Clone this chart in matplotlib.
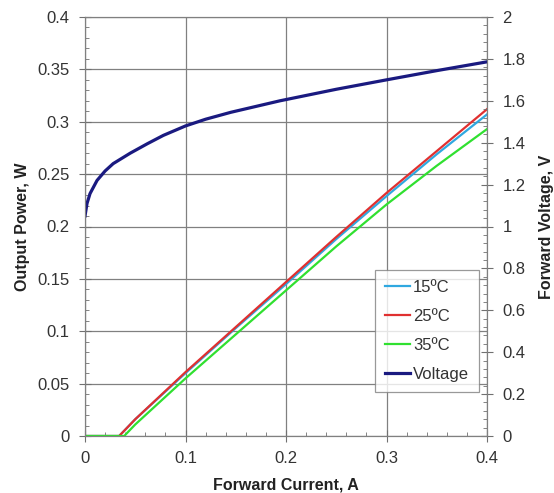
import matplotlib
matplotlib.use("Agg")
import matplotlib.pyplot as plt
from matplotlib.ticker import MultipleLocator

plt.rcParams['font.family'] = ['Liberation Sans', 'DejaVu Sans']

current_pw = [0.0, 0.02, 0.034, 0.05, 0.1, 0.15, 0.2, 0.25, 0.3, 0.35, 0.4]
p15 = [0.0, 0.0, 0.0, 0.016, 0.060, 0.103, 0.145, 0.188, 0.229, 0.269, 0.307]
p25 = [0.0, 0.0, 0.0, 0.016, 0.061, 0.104, 0.147, 0.190, 0.232, 0.272, 0.312]
current_35 = [0.0, 0.02, 0.039, 0.05, 0.1, 0.15, 0.2, 0.25, 0.3, 0.35, 0.4]
p35 = [0.0, 0.0, 0.0, 0.011, 0.055, 0.097, 0.139, 0.181, 0.221, 0.258, 0.293]

current_v = [0.0, 0.002, 0.005, 0.012, 0.02, 0.028, 0.045, 0.062, 0.078, 0.1,
             0.12, 0.145, 0.194, 0.25, 0.3, 0.35, 0.4]
voltage = [1.05, 1.11, 1.157, 1.22, 1.265, 1.30, 1.35, 1.395, 1.435, 1.48,
           1.512, 1.545, 1.60, 1.655, 1.70, 1.744, 1.786]

fig = plt.figure(figsize=(5.54, 4.93), dpi=100)
ax = fig.add_axes([85 / 554, (493 - 436) / 493, 402 / 554, 419 / 493])
ax2 = ax.twinx()

l15, = ax.plot(current_pw, p15, color='#2FA8E0', lw=1.6, label='15ºC')
l25, = ax.plot(current_pw, p25, color='#E03030', lw=1.6, label='25ºC')
l35, = ax.plot(current_35, p35, color='#30E030', lw=1.6, label='35ºC')
lv, = ax2.plot(current_v, voltage, color='#1A1A80', lw=2.3, label='Voltage')

ax.set_xlim(0, 0.4)
ax.set_ylim(0, 0.4)
ax2.set_ylim(0, 2)
ax.xaxis.set_major_locator(MultipleLocator(0.1))
ax.xaxis.set_minor_locator(MultipleLocator(0.02))
ax.yaxis.set_major_locator(MultipleLocator(0.05))
ax.yaxis.set_minor_locator(MultipleLocator(0.01))
ax2.yaxis.set_major_locator(MultipleLocator(0.2))
ax2.yaxis.set_minor_locator(MultipleLocator(0.04))

fmt = plt.FuncFormatter(lambda v, p: '0' if abs(v) < 1e-9 else f'{v:g}')
ax.xaxis.set_major_formatter(fmt)
ax.yaxis.set_major_formatter(fmt)
ax2.yaxis.set_major_formatter(fmt)

ax.grid(True, which='major', color='#808080', lw=0.9)
for a in (ax, ax2):
    for s in a.spines.values():
        s.set_color('#808080')
    a.tick_params(which='major', direction='inout', length=8, colors='#707070',
                  labelcolor='#333333', labelsize=12, pad=7)
    a.tick_params(which='minor', direction='in', length=3, colors='#707070')

ax.set_xlabel('Forward Current, A', fontsize=11.5, fontweight='bold', color='#222222', labelpad=8)
ax.set_ylabel('Output Power, W', fontsize=11.5, fontweight='bold', color='#222222', labelpad=5)
ax2.set_ylabel('Forward Voltage, V', fontsize=11.5, fontweight='bold', color='#222222', labelpad=10)

leg = ax.legend(handles=[l15, l25, l35, lv], loc='lower right', bbox_to_anchor=(0.98, 0.105),
                borderaxespad=0, fontsize=12, frameon=True, fancybox=False, edgecolor='#808080',
                handlelength=1.5, handletextpad=0.15, borderpad=0.6, labelspacing=0.85)
leg.get_frame().set_linewidth(0.9)
for t in leg.get_texts():
    t.set_color('#333333')

fig.savefig('out.png', dpi=100)
